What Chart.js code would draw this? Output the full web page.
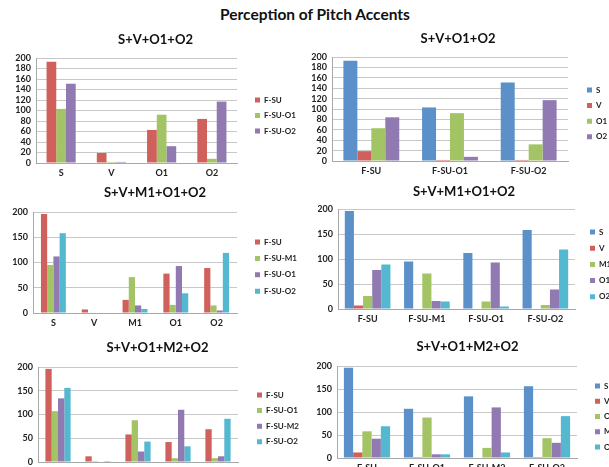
<!DOCTYPE html>
<html>
<head>
<meta charset="utf-8">
<script src="https://cdn.jsdelivr.net/npm/chart.js@4.4.1/dist/chart.umd.min.js"></script>
<style>
  html, body { margin: 0; padding: 0; background: #fff; overflow: hidden; width: 609px; height: 467px; position: relative; }
  #heading { position: absolute; left: 0; top: 4px; width: 630px; text-align: center;
             font: bold 15.5px Lato, "Open Sans", sans-serif; line-height: 20px; color: #111; }
  canvas { position: absolute; }
</style>
</head>
<body>
<div id="heading">Perception of Pitch Accents</div>
<script>
// ---- S+V+O1+O2 ----
const accentsA = ['S', 'V', 'O1', 'O2'];
const conditionsA = ['F-SU', 'F-SU-O1', 'F-SU-O2'];
const fsuA   = [193, 19, 63, 84];
const fsuO1A = [103, 2, 92, 8];
const fsuO2A = [151, 2, 32, 117];

// ---- S+V+M1+O1+O2 ----
const accentsB = ['S', 'V', 'M1', 'O1', 'O2'];
const conditionsB = ['F-SU', 'F-SU-M1', 'F-SU-O1', 'F-SU-O2'];
const fsuB   = [196, 7, 26, 78, 89];
const fsuM1B = [95, 0, 71, 16, 15];
const fsuO1B = [112, 0, 15, 93, 5];
const fsuO2B = [158, 1, 8, 39, 119];

// ---- S+V+O1+M2+O2 ----
const accentsC = ['S', 'V', 'O1', 'M2', 'O2'];
const conditionsC = ['F-SU', 'F-SU-O1', 'F-SU-M2', 'F-SU-O2'];
const fsuC   = [196, 12, 58, 42, 69];
const fsuO1C = [107, 2, 88, 8, 8];
const fsuM2C = [134, 0, 22, 110, 12];
const fsuO2C = [156, 2, 43, 33, 91];

const titles = ['S+V+O1+O2', 'S+V+M1+O1+O2', 'S+V+O1+M2+O2'];
const yMax = 200;

const BLUE = '#5B90C8', RED = '#D0605B', GREEN = '#A3C465', PURPLE = '#9179B2', CYAN = '#53B8D0';
const leftColors = [RED, GREEN, PURPLE, CYAN];
const rightColors = [BLUE, RED, GREEN, PURPLE, CYAN];
const FONT = 'Lato, "Open Sans", sans-serif';
const TEXT = '#222';

// Keeps the legend at a fixed width and places its first entry at a given point
// (boxX / firstY are canvas coordinates).
const legendPlacer = {
  id: 'legendPlacer',
  beforeLayout(chart, args, o) {
    const lg = chart.legend;
    if (lg && !lg.__fixed) {
      const fit = lg.fit.bind(lg);
      lg.fit = function () { fit(); this.width = o.width; };
      lg.__fixed = true;
    }
  },
  afterLayout(chart, args, o) {
    const lg = chart.legend;
    if (!lg) return;
    const pad = o.gap - o.fontSize;
    lg.left = o.boxX - pad;
    lg.right = lg.left + lg.width;
    lg.top = o.firstY - o.fontSize / 2 - pad;
    lg.bottom = lg.top + lg.height;
  }
};

function panel(g, title, labels, sets, step, catPct) {
  const cv = document.createElement('canvas');
  cv.width = g.w; cv.height = g.h;
  cv.style.left = g.x + 'px'; cv.style.top = g.y + 'px';
  document.body.appendChild(cv);

  const tSize = 13, tLH = tSize * 1.2;
  const padTop = g.titleY - g.y - tLH / 2;
  const padBottom = g.t - g.y - padTop - tLH;
  const fs = 9, lfs = 8;

  new Chart(cv, {
    type: 'bar',
    data: {
      labels: labels,
      datasets: sets.map(s => ({
        label: s.label, data: s.data, backgroundColor: s.color,
        borderWidth: 0, categoryPercentage: catPct, barPercentage: 1
      }))
    },
    options: {
      responsive: false, animation: false, devicePixelRatio: 1,
      layout: { padding: 0 },
      plugins: {
        title: { display: true, text: title, color: '#111',
                 font: { family: FONT, size: tSize, weight: 'bold' },
                 padding: { top: padTop, bottom: padBottom } },
        legend: { position: 'right', align: 'start',
                  labels: { boxWidth: 5, boxHeight: 5, padding: g.gap - lfs, color: TEXT,
                            font: { family: FONT, size: lfs, weight: 'bold' } } },
        tooltip: { enabled: false },
        legendPlacer: { width: g.x + g.w - g.r, boxX: g.lx - g.x, firstY: g.ly - g.y, gap: g.gap, fontSize: lfs }
      },
      scales: {
        x: {
          grid: { display: false, drawTicks: false },
          border: { display: true, color: '#a8a8a8' },
          ticks: { color: TEXT, padding: 5, font: { family: FONT, size: fs, weight: 'bold' } },
          afterFit(s) { s.height = g.y + g.h - g.b; }
        },
        y: {
          min: 0, max: yMax,
          grid: { color: '#c8c8c8', drawTicks: false },
          border: { display: true, color: '#a8a8a8' },
          ticks: { stepSize: step, autoSkip: false, color: TEXT, padding: 5,
                   font: { family: FONT, size: fs, weight: 'bold' } },
          afterFit(s) { s.width = g.l - g.x; }
        }
      }
    },
    plugins: [legendPlacer]
  });
}

function byCondition(conditions, rows) {
  return conditions.map((c, i) => ({ label: c, data: rows[i], color: leftColors[i] }));
}
function byAccent(accents, rows) {
  return accents.map((a, j) => ({ label: a, data: rows.map(r => r[j]), color: rightColors[j] }));
}

const rowsA = [fsuA, fsuO1A, fsuO2A];
const rowsB = [fsuB, fsuM1B, fsuO1B, fsuO2B];
const rowsC = [fsuC, fsuO1C, fsuM2C, fsuO2C];

panel({ x: 0, y: 30, w: 311, h: 155, l: 36, r: 237, t: 58, b: 163, titleY: 40, lx: 255, ly: 100, gap: 15.5 },
      titles[0], accentsA, byCondition(conditionsA, rowsA), 20, 0.58);
panel({ x: 309, y: 30, w: 298, h: 155, l: 332, r: 568, t: 57, b: 161, titleY: 39, lx: 587, ly: 90, gap: 15.6 },
      titles[0], conditionsA, byAccent(accentsA, rowsA), 20, 0.71);

panel({ x: 0, y: 180, w: 310, h: 155, l: 33, r: 237, t: 212, b: 313, titleY: 193, lx: 255, ly: 242, gap: 16.4 },
      titles[1], accentsB, byCondition(conditionsB, rowsB), 50, 0.61);
panel({ x: 318, y: 180, w: 292, h: 155, l: 338, r: 575, t: 209, b: 309, titleY: 192, lx: 590, ly: 232, gap: 16.2 },
      titles[1], conditionsB, byAccent(accentsB, rowsB), 50, 0.77);

panel({ x: 0, y: 330, w: 315, h: 150, l: 38, r: 238, t: 367, b: 462, titleY: 348, lx: 257, ly: 395, gap: 15.6 },
      titles[2], accentsC, byCondition(conditionsC, rowsC), 50, 0.63);
panel({ x: 317, y: 330, w: 301, h: 150, l: 337, r: 577, t: 366, b: 458, titleY: 347, lx: 595, ly: 386, gap: 15.25 },
      titles[2], conditionsC, byAccent(accentsC, rowsC), 50, 0.77);
</script>
</body>
</html>
